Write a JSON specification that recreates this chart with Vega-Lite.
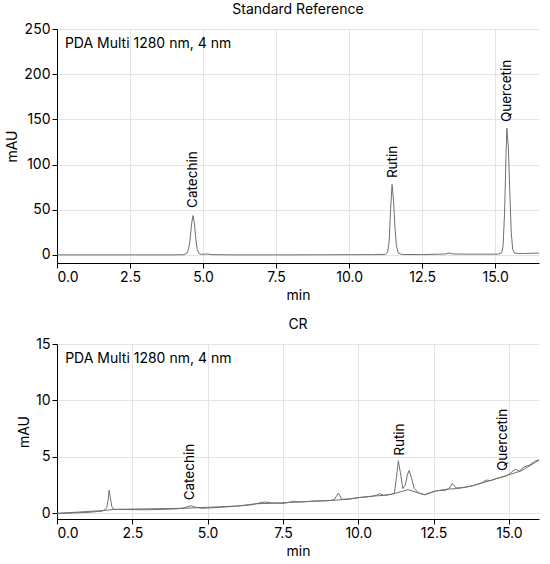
{
  "$schema": "https://vega.github.io/schema/vega-lite/v6.json",
  "background": "white",
  "padding": {"left": 5, "top": 3, "right": 10, "bottom": 5},
  "spacing": 16,
  "config": {
    "font": "Inter",
    "view": {"stroke": null},
    "title": {"fontSize": 14, "fontWeight": "normal", "color": "black", "offset": 5},
    "axis": {
      "labelFontSize": 14, "titleFontSize": 14, "titleFontWeight": "normal",
      "labelColor": "black", "titleColor": "black",
      "domainColor": "black", "tickColor": "black",
      "gridColor": "#e4e4e4", "labelFont": "Inter", "titleFont": "Inter"
    }
  },
  "datasets": {
    "std": [
      {"t": 0, "v": 0}, {"t": 1, "v": 0}, {"t": 2, "v": 0}, {"t": 3, "v": 0}, {"t": 4, "v": 0},
      {"t": 4.35, "v": 0.2}, {"t": 4.45, "v": 2}, {"t": 4.5, "v": 6}, {"t": 4.55, "v": 15},
      {"t": 4.6, "v": 32}, {"t": 4.65, "v": 43.5}, {"t": 4.7, "v": 36}, {"t": 4.75, "v": 18},
      {"t": 4.8, "v": 6}, {"t": 4.86, "v": 1.5}, {"t": 4.95, "v": 0.5}, {"t": 5.15, "v": 1},
      {"t": 5.3, "v": 0.3}, {"t": 6, "v": 0}, {"t": 8, "v": 0}, {"t": 10, "v": 0.2},
      {"t": 10.8, "v": 0.3}, {"t": 11.25, "v": 0.5}, {"t": 11.32, "v": 3}, {"t": 11.37, "v": 15},
      {"t": 11.42, "v": 50}, {"t": 11.47, "v": 78}, {"t": 11.52, "v": 60}, {"t": 11.57, "v": 30},
      {"t": 11.62, "v": 10}, {"t": 11.68, "v": 2}, {"t": 11.8, "v": 0.5}, {"t": 12.5, "v": 0.3},
      {"t": 13.1, "v": 0.8}, {"t": 13.3, "v": 1}, {"t": 13.42, "v": 2.2}, {"t": 13.55, "v": 1},
      {"t": 14, "v": 0.8}, {"t": 15.1, "v": 0.8}, {"t": 15.22, "v": 2}, {"t": 15.27, "v": 10},
      {"t": 15.32, "v": 45}, {"t": 15.37, "v": 110}, {"t": 15.4, "v": 140}, {"t": 15.45, "v": 120},
      {"t": 15.5, "v": 70}, {"t": 15.55, "v": 25}, {"t": 15.6, "v": 6}, {"t": 15.66, "v": 2},
      {"t": 15.8, "v": 1.5}, {"t": 16, "v": 1.5}, {"t": 16.5, "v": 2}
    ],
    "stdLabels": [
      {"t": 4.65, "v": 52, "name": "Catechin"},
      {"t": 11.5, "v": 85, "name": "Rutin"},
      {"t": 15.4, "v": 147, "name": "Quercetin"}
    ],
    "cr": [
      {"s": "signal", "t": 0, "v": 0}, {"s": "signal", "t": 0.5, "v": 0.03}, {"s": "signal", "t": 1, "v": 0.08},
      {"s": "signal", "t": 1.5, "v": 0.2}, {"s": "signal", "t": 1.6, "v": 0.35}, {"s": "signal", "t": 1.65, "v": 0.5},
      {"s": "signal", "t": 1.7, "v": 1.2}, {"s": "signal", "t": 1.73, "v": 2.05}, {"s": "signal", "t": 1.77, "v": 1.4},
      {"s": "signal", "t": 1.82, "v": 0.6}, {"s": "signal", "t": 1.88, "v": 0.35}, {"s": "signal", "t": 2.1, "v": 0.35},
      {"s": "signal", "t": 2.5, "v": 0.33}, {"s": "signal", "t": 3, "v": 0.32}, {"s": "signal", "t": 3.5, "v": 0.35},
      {"s": "signal", "t": 4, "v": 0.4}, {"s": "signal", "t": 4.25, "v": 0.5}, {"s": "signal", "t": 4.43, "v": 0.68},
      {"s": "signal", "t": 4.6, "v": 0.55}, {"s": "signal", "t": 4.8, "v": 0.45}, {"s": "signal", "t": 5, "v": 0.47},
      {"s": "signal", "t": 5.5, "v": 0.55}, {"s": "signal", "t": 6, "v": 0.65}, {"s": "signal", "t": 6.5, "v": 0.77},
      {"s": "signal", "t": 6.75, "v": 0.95}, {"s": "signal", "t": 6.9, "v": 1.0}, {"s": "signal", "t": 7.1, "v": 0.93},
      {"s": "signal", "t": 7.5, "v": 0.88}, {"s": "signal", "t": 7.75, "v": 1.0}, {"s": "signal", "t": 7.85, "v": 1.09},
      {"s": "signal", "t": 8, "v": 1.0}, {"s": "signal", "t": 8.3, "v": 1.05}, {"s": "signal", "t": 8.6, "v": 1.1},
      {"s": "signal", "t": 9, "v": 1.12}, {"s": "signal", "t": 9.2, "v": 1.2}, {"s": "signal", "t": 9.34, "v": 1.8},
      {"s": "signal", "t": 9.45, "v": 1.25}, {"s": "signal", "t": 9.7, "v": 1.25}, {"s": "signal", "t": 10, "v": 1.39},
      {"s": "signal", "t": 10.4, "v": 1.5}, {"s": "signal", "t": 10.6, "v": 1.6}, {"s": "signal", "t": 10.7, "v": 1.75},
      {"s": "signal", "t": 10.85, "v": 1.6}, {"s": "signal", "t": 11.1, "v": 1.68}, {"s": "signal", "t": 11.2, "v": 1.8},
      {"s": "signal", "t": 11.26, "v": 3}, {"s": "signal", "t": 11.33, "v": 4.65}, {"s": "signal", "t": 11.4, "v": 3.6},
      {"s": "signal", "t": 11.48, "v": 2.2}, {"s": "signal", "t": 11.56, "v": 2.5}, {"s": "signal", "t": 11.63, "v": 3.4},
      {"s": "signal", "t": 11.69, "v": 3.8}, {"s": "signal", "t": 11.76, "v": 3.2}, {"s": "signal", "t": 11.86, "v": 2.2},
      {"s": "signal", "t": 12, "v": 1.8}, {"s": "signal", "t": 12.2, "v": 1.65}, {"s": "signal", "t": 12.4, "v": 1.85},
      {"s": "signal", "t": 12.6, "v": 2.0}, {"s": "signal", "t": 12.9, "v": 2.05}, {"s": "signal", "t": 13.05, "v": 2.3},
      {"s": "signal", "t": 13.12, "v": 2.65}, {"s": "signal", "t": 13.25, "v": 2.25}, {"s": "signal", "t": 13.5, "v": 2.28},
      {"s": "signal", "t": 13.8, "v": 2.45}, {"s": "signal", "t": 14.1, "v": 2.7}, {"s": "signal", "t": 14.25, "v": 2.95},
      {"s": "signal", "t": 14.4, "v": 2.9}, {"s": "signal", "t": 14.6, "v": 3.1}, {"s": "signal", "t": 14.9, "v": 3.3},
      {"s": "signal", "t": 15.05, "v": 3.55}, {"s": "signal", "t": 15.2, "v": 3.9}, {"s": "signal", "t": 15.35, "v": 3.75},
      {"s": "signal", "t": 15.5, "v": 4.1}, {"s": "signal", "t": 15.7, "v": 4.3}, {"s": "signal", "t": 15.85, "v": 4.6},
      {"s": "signal", "t": 16, "v": 4.75},
      {"s": "baseline", "t": 0, "v": 0}, {"s": "baseline", "t": 1.55, "v": 0.25}, {"s": "baseline", "t": 1.9, "v": 0.35},
      {"s": "baseline", "t": 4.2, "v": 0.45}, {"s": "baseline", "t": 4.7, "v": 0.5}, {"s": "baseline", "t": 6, "v": 0.65},
      {"s": "baseline", "t": 6.6, "v": 0.85}, {"s": "baseline", "t": 7.2, "v": 0.9}, {"s": "baseline", "t": 8, "v": 1.0},
      {"s": "baseline", "t": 9.15, "v": 1.15}, {"s": "baseline", "t": 9.5, "v": 1.22}, {"s": "baseline", "t": 10, "v": 1.39},
      {"s": "baseline", "t": 10.6, "v": 1.55}, {"s": "baseline", "t": 10.9, "v": 1.6}, {"s": "baseline", "t": 11.2, "v": 1.75},
      {"s": "baseline", "t": 11.65, "v": 2.1}, {"s": "baseline", "t": 12.2, "v": 1.65}, {"s": "baseline", "t": 12.6, "v": 2.0},
      {"s": "baseline", "t": 13, "v": 2.15}, {"s": "baseline", "t": 13.3, "v": 2.2}, {"s": "baseline", "t": 13.8, "v": 2.45},
      {"s": "baseline", "t": 14.5, "v": 3.0}, {"s": "baseline", "t": 15.1, "v": 3.5}, {"s": "baseline", "t": 15.4, "v": 3.75},
      {"s": "baseline", "t": 16, "v": 4.7}
    ],
    "crLabels": [
      {"t": 4.43, "v": 1.15, "name": "Catechin"},
      {"t": 11.38, "v": 5.1, "name": "Rutin"},
      {"t": 14.8, "v": 3.75, "name": "Quercetin"}
    ]
  },
  "vconcat": [
    {
      "title": "Standard Reference",
      "width": 482,
      "height": 234,
      "layer": [
        {
          "data": {"name": "std"},
          "mark": {"type": "line", "color": "#707070", "strokeWidth": 1},
          "encoding": {
            "x": {"field": "t", "type": "quantitative", "title": "min",
                  "scale": {"domain": [0, 16.5], "nice": false},
                  "axis": {"values": [0, 2.5, 5, 7.5, 10, 12.5, 15], "format": ".1f"}},
            "y": {"field": "v", "type": "quantitative", "title": "mAU",
                  "scale": {"domain": [-9, 250], "nice": false},
                  "axis": {"values": [0, 50, 100, 150, 200, 250]}}
          }
        },
        {
          "data": {"name": "stdLabels"},
          "mark": {"type": "text", "angle": 270, "align": "left", "baseline": "middle", "fontSize": 13.5},
          "encoding": {
            "x": {"field": "t", "type": "quantitative"},
            "y": {"field": "v", "type": "quantitative"},
            "text": {"field": "name"}
          }
        },
        {
          "data": {"values": [{"t": 0.27, "v": 233, "label": "PDA Multi 1280 nm, 4 nm"}]},
          "mark": {"type": "text", "align": "left", "baseline": "middle", "fontSize": 14},
          "encoding": {
            "x": {"field": "t", "type": "quantitative"},
            "y": {"field": "v", "type": "quantitative"},
            "text": {"field": "label"}
          }
        }
      ]
    },
    {
      "title": "CR",
      "width": 482,
      "height": 175,
      "layer": [
        {
          "data": {"name": "cr"},
          "mark": {"type": "line", "color": "#707070", "strokeWidth": 1},
          "encoding": {
            "x": {"field": "t", "type": "quantitative", "title": "min",
                  "scale": {"domain": [0, 16], "nice": false},
                  "axis": {"values": [0, 2.5, 5, 7.5, 10, 12.5, 15], "format": ".1f"}},
            "y": {"field": "v", "type": "quantitative", "title": "mAU",
                  "scale": {"domain": [-0.5, 15], "nice": false},
                  "axis": {"values": [0, 5, 10, 15]}},
            "detail": {"field": "s", "type": "nominal"}
          }
        },
        {
          "data": {"name": "crLabels"},
          "mark": {"type": "text", "angle": 270, "align": "left", "baseline": "middle", "fontSize": 13.5},
          "encoding": {
            "x": {"field": "t", "type": "quantitative"},
            "y": {"field": "v", "type": "quantitative"},
            "text": {"field": "name"}
          }
        },
        {
          "data": {"values": [{"t": 0.27, "v": 13.7, "label": "PDA Multi 1280 nm, 4 nm"}]},
          "mark": {"type": "text", "align": "left", "baseline": "middle", "fontSize": 14},
          "encoding": {
            "x": {"field": "t", "type": "quantitative"},
            "y": {"field": "v", "type": "quantitative"},
            "text": {"field": "label"}
          }
        }
      ]
    }
  ]
}
